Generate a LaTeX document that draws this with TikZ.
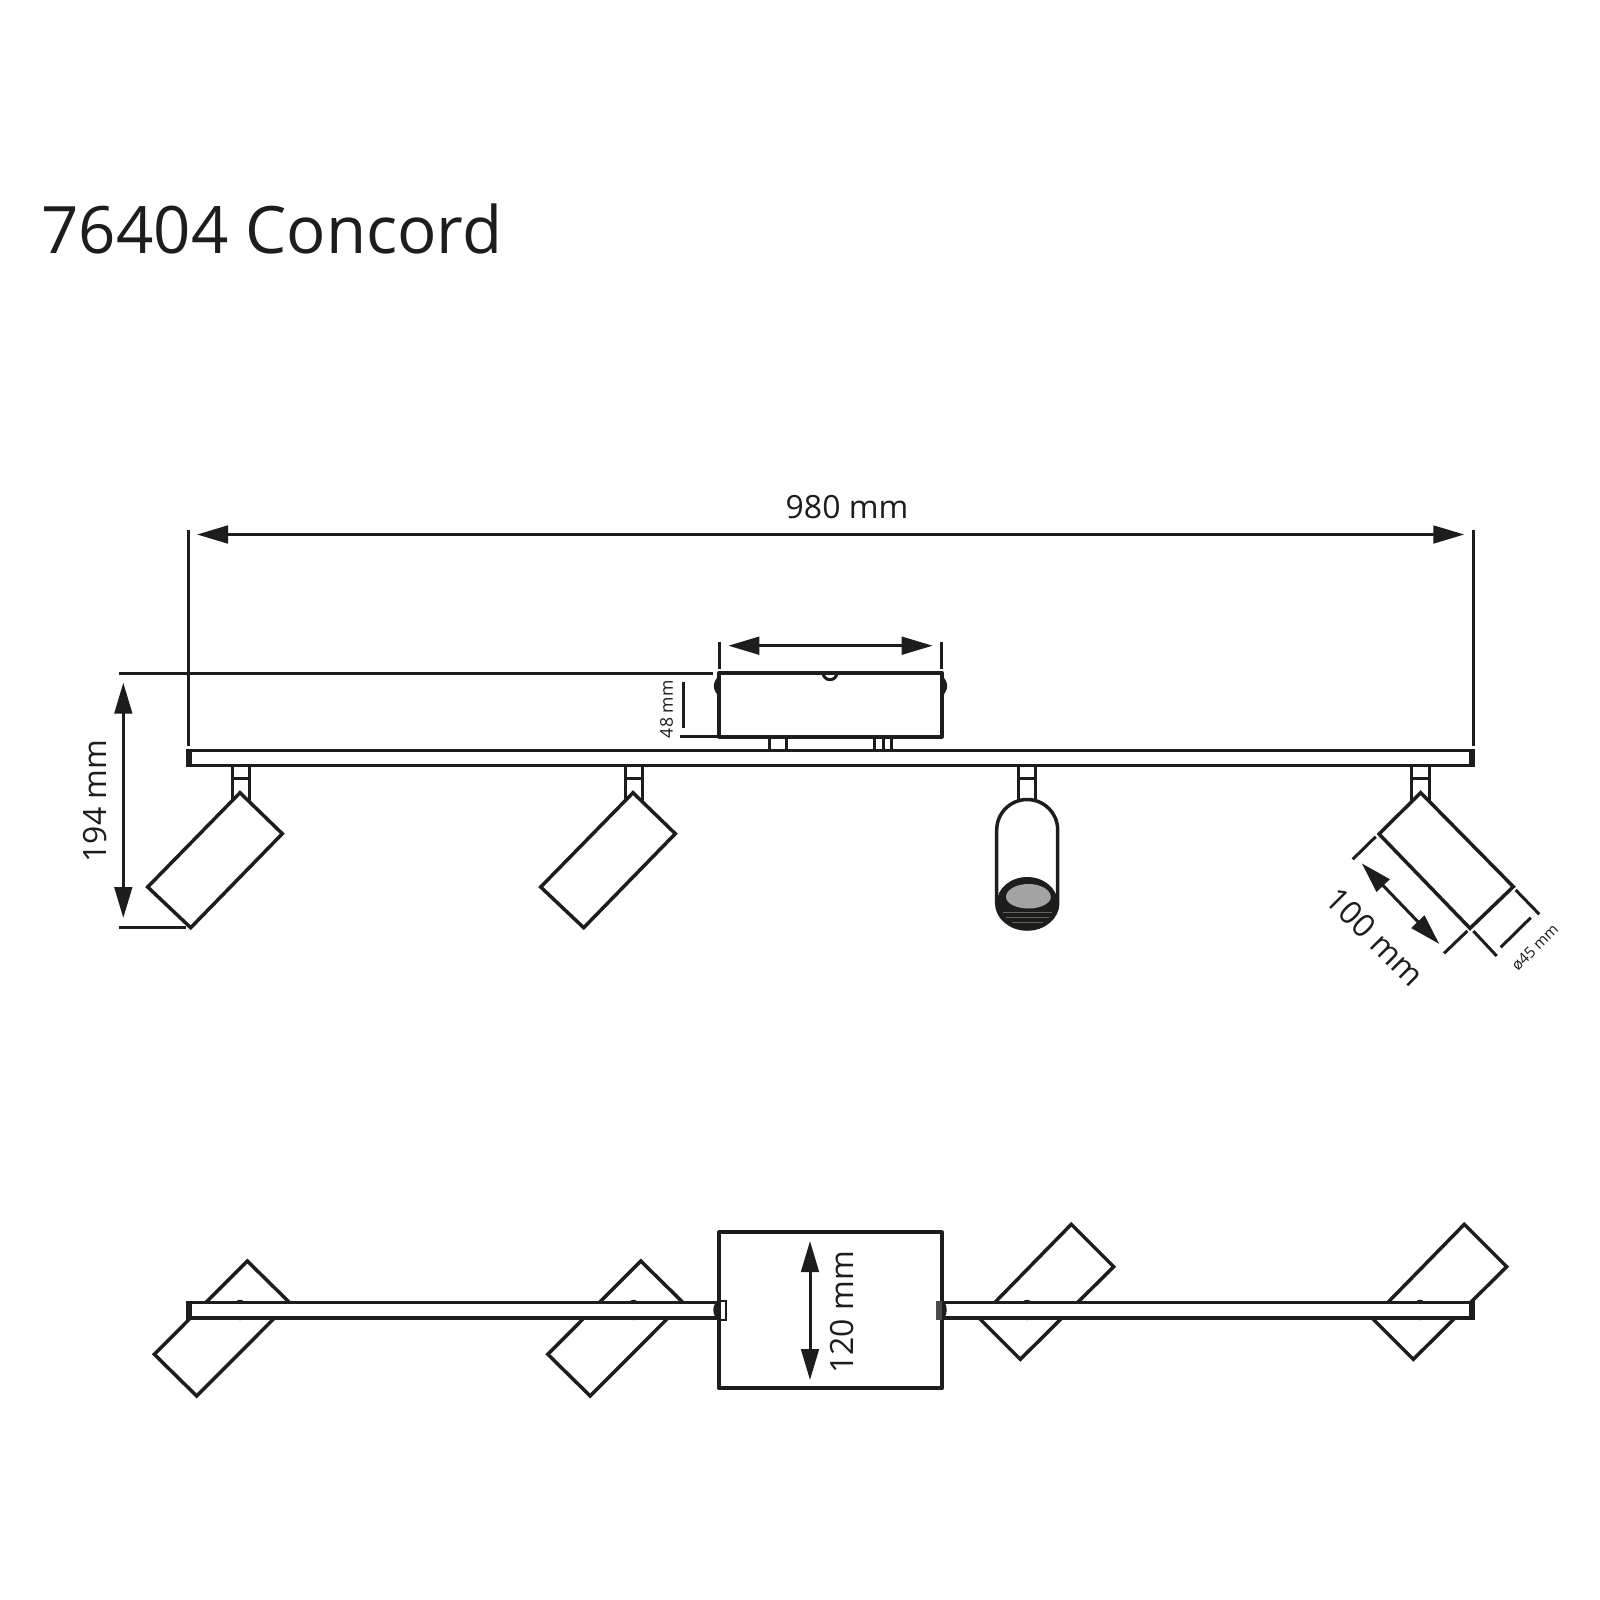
\documentclass[tikz,border=0pt]{standalone}
\usepackage{fontspec}
\setmainfont{Open Sans}
\usetikzlibrary{arrows.meta}
\definecolor{ink}{HTML}{1D1D1B}
\definecolor{lens}{HTML}{A3A3A3}
\tikzset{
  px/.style={x=0.5pt,y=-0.5pt},
  outline/.style={draw=ink,line width=1.75pt,line join=miter},
  heavy/.style={draw=ink,line width=2.1pt,line join=round},
  thinl/.style={draw=ink,line width=1.5pt},
  dimline/.style={draw=ink,line width=1.5pt,{Triangle[length=15.5pt,width=8.8pt]}-{Triangle[length=15.5pt,width=8.8pt]}},
  label/.style={text=ink,inner sep=0pt,font=\fontsize{16}{18}\selectfont},
  tiny label/.style={text=ink,inner sep=0pt,font=\fontsize{8.8}{10}\selectfont},
  mini label/.style={text=ink,inner sep=0pt,font=\fontsize{7.6}{8}\selectfont},
}
\begin{document}
\begin{tikzpicture}[px]
\useasboundingbox (0,0) rectangle (1600,1600);
\fill[white] (0,0) rectangle (1600,1600);
% title
\node[text=ink,inner sep=0pt,anchor=base west,font=\fontsize{32.7}{40}\selectfont] (title) at (41,253) {76404 Concord};

% ---------- front view ----------
% extension lines
\coordinate (extLt) at (188,530); \coordinate (extLb) at (188,746);
\coordinate (extRt) at (1473,530); \coordinate (extRb) at (1473,746);
\draw[thinl] (extLt) -- (extLb);
\draw[thinl] (extRt) -- (extRb);
\coordinate (topA) at (119,673.3); \coordinate (topB) at (712.5,673.3);
\draw[thinl] (topA) -- (topB);
\coordinate (botA) at (119,927.7); \coordinate (botB) at (186,927.7);
\draw[thinl] (botA) -- (botB);
% 980
\coordinate (wL) at (197,534.5); \coordinate (wR) at (1464.3,534.5);
\draw[dimline] (wL) -- (wR);
\node[label] (w980) at (847,507) {980 mm};
% 194
\coordinate (hT) at (123.3,682.7); \coordinate (hB) at (123.3,918);
\draw[dimline] (hT) -- (hB);
\node[label,rotate=90] (h194) at (95,801) {194 mm};

% stems
\foreach \sx in {232,625,1411.7}{
  \draw[thinl] (\sx,765) -- (\sx,802);
  \draw[thinl] (\sx+17.3,765) -- (\sx+17.3,802);
  \draw[thinl] (\sx,778) -- (\sx+17.3,778);
}
\draw[thinl] (1018.3,765) -- (1018.3,800) (1035.7,765) -- (1035.7,800) (1018.3,778) -- (1035.7,778);

% tilted spots
\foreach \dx in {0,393}{
  \begin{scope}[shift={(\dx,0)}]
    \draw[outline,fill=white] (240,792.7) -- (282.3,833.7) -- (190.7,927.7) -- (147.7,887) -- cycle;
  \end{scope}
}
\draw[outline,fill=white] (1420.7,792.7) -- (1513.3,886.7) -- (1470,928.3) -- (1379,834) -- cycle;

% front spot
\draw[outline,fill=white] (996.7,830) arc[start angle=180,end angle=360,radius=30.5] -- (1057.7,903)
   arc[start angle=0,end angle=180,x radius=30.5,y radius=26] -- cycle;
\fill[ink] (996.7,903) arc[start angle=180,end angle=360,x radius=30.5,y radius=26]
   arc[start angle=0,end angle=180,x radius=30.5,y radius=26] -- cycle;
\fill[lens] (1006,897) arc[start angle=180,end angle=360,x radius=22.4,y radius=13]
   arc[start angle=0,end angle=180,x radius=22.4,y radius=11.5] -- cycle;
\draw[draw=ink!70,line width=0.3pt] (1003,912) -- (1052,912) (1006,917) -- (1049,917) (1012,922) -- (1043,922);

% rail
\draw[outline,fill=white] (187.7,750.5) rectangle (1473,765.5);
\fill[ink] (187,749.7) rectangle (191.8,766.3);
\fill[ink] (1469,749.7) rectangle (1473.8,766.3);

% feet
\draw[thinl] (769.3,737) -- (769.3,750) (786.7,737) -- (786.7,750);
\draw[thinl] (874.3,737) -- (874.3,750) (883.3,737) -- (883.3,750) (891.7,737) -- (891.7,750);
\draw[draw=ink,line width=0.5pt] (765,734.3) -- (791,734.3) (869.5,734.3) -- (896,734.3);

% box
\draw[heavy,fill=white] (719.3,672.7) rectangle (941.7,736.7);
\draw[thinl] (719.3,672.7) -- (941.7,672.7);
\draw[thinl] (823,672.7) arc[start angle=180,end angle=0,radius=7];
\fill[ink] (719.3,675) .. controls (712,683) and (712,689) .. (719.3,697) -- cycle;
\fill[ink] (941.7,675) .. controls (949,683) and (949,689) .. (941.7,697) -- cycle;
\coordinate (bxA) at (680,736.7); \coordinate (bxB) at (719.3,736.7);
\draw[thinl] (bxA) -- (bxB);
% box dims
\coordinate (e1a) at (719,641.7); \coordinate (e1b) at (719,669);
\coordinate (e2a) at (941.7,641.7); \coordinate (e2b) at (941.7,669);
\draw[thinl] (e1a) -- (e1b) (e2a) -- (e2b);
\coordinate (bwL) at (728.3,645.7); \coordinate (bwR) at (932.7,645.7);
\draw[dimline] (bwL) -- (bwR);
\coordinate (d48a) at (683.7,681.7); \coordinate (d48b) at (683.7,727.7);
\draw[thinl] (d48a) -- (d48b);
\node[tiny label,rotate=90] (h48) at (666.7,709.3) {48 mm};

% dims on right spot
\coordinate (x1a) at (1375.7,836.7); \coordinate (x1b) at (1352.7,859.3);
\coordinate (x2a) at (1467.3,931); \coordinate (x2b) at (1444,953.3);
\coordinate (x3a) at (1515.7,890); \coordinate (x3b) at (1539.3,914.3);
\coordinate (x4a) at (1473.3,931); \coordinate (x4b) at (1496.7,956);
\coordinate (x5a) at (1530.7,917.7); \coordinate (x5b) at (1500.7,947.3);
\draw[thinl] (x1a) -- (x1b) (x2a) -- (x2b) (x3a) -- (x3b) (x4a) -- (x4b) (x5a) -- (x5b);
\coordinate (lA) at (1361.7,863.3); \coordinate (lB) at (1439.3,944);
\draw[dimline] (lA) -- (lB);
\node[label,rotate=-45] (l100) at (1375,937) {100 mm};
\node[mini label,rotate=45] (d45) at (1535,947.5) {ø45 mm};

% ---------- top view ----------
\foreach \dx in {0,393.5}{
  \begin{scope}[shift={(\dx,0)}]
    \draw[outline,fill=white] (247.3,1261) -- (289.7,1302.7) -- (196.7,1396) -- (154.3,1354.3) -- cycle;
  \end{scope}
}
\foreach \dx in {0,-393}{
  \begin{scope}[shift={(\dx,0)}]
    \draw[outline,fill=white] (1464.3,1224.3) -- (1506.7,1266.7) -- (1413.3,1359.3) -- (1372.3,1318.3) -- cycle;
  \end{scope}
}
% rails
\draw[outline,fill=white] (187.7,1302.3) rectangle (719.3,1318);
\draw[outline,fill=white] (941.7,1302.3) rectangle (1473,1318);
\fill[ink] (187,1301.5) rectangle (191.8,1318.8);
\fill[ink] (1469,1301.5) rectangle (1473.8,1318.8);
% pivots
\foreach \bx in {240,633.5,1027,1420}{
  \fill[ink] (\bx-4,1302) arc[start angle=180,end angle=360,x radius=4,y radius=2.2] -- cycle;
  \fill[ink] (\bx-4,1318) arc[start angle=180,end angle=0,x radius=4,y radius=2.2] -- cycle;
}
% box
\draw[heavy,fill=white] (719.3,1232.3) rectangle (941.7,1388.3);
\fill[ink] (719.3,1301) arc[start angle=270,end angle=90,x radius=6,y radius=9] -- cycle;
\fill[ink] (941.7,1301) arc[start angle=270,end angle=450,x radius=5,y radius=9] -- cycle;
\draw[draw=ink,line width=0.9pt] (719.5,1300.7) rectangle (725.7,1320);
\fill[ink!80] (935.7,1300.7) rectangle (941.7,1320);
\coordinate (tA) at (810,1241); \coordinate (tB) at (810,1380);
\draw[dimline] (tA) -- (tB);
\node[label,rotate=90] (t120) at (842.3,1312.3) {120 mm};
\end{tikzpicture}
\end{document}
